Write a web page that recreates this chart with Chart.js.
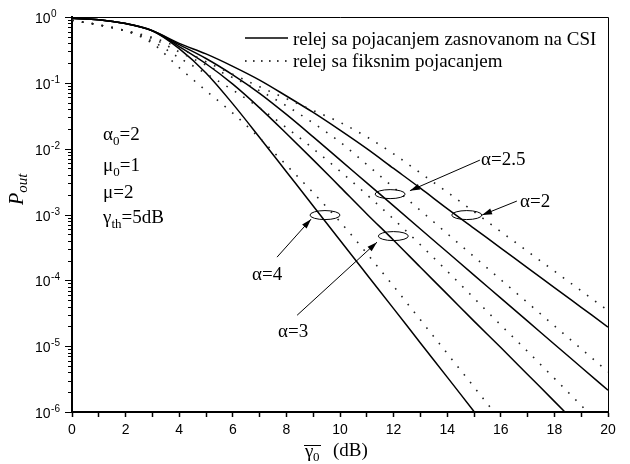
<!DOCTYPE html>
<html>
<head>
<meta charset="utf-8">
<script src="https://cdn.jsdelivr.net/npm/chart.js@4.4.1/dist/chart.umd.min.js"></script>
<style>
  html, body { margin: 0; padding: 0; background: #fff; }
  canvas { display: block; }
</style>
</head>
<body>
<canvas id="chart" width="630" height="464"></canvas>
<script>
// average SNR of the first hop, dB
const gammaDb = [0, 1, 2, 3, 4, 5, 6, 7, 8, 9, 10, 11, 12, 13, 14, 15, 16, 17, 18, 19, 20];

// outage probability, relay with CSI-assisted gain (solid)
const csiA2  = [0.955, 0.912, 0.794, 0.617, 0.398, 0.275, 0.178, 0.110, 0.0631, 0.0355, 0.0191, 0.0100, 5.01e-3, 2.51e-3, 1.23e-3, 6.17e-4, 3.09e-4, 1.55e-4, 7.76e-5, 3.89e-5, 1.95e-5];
const csiA25 = [0.955, 0.912, 0.794, 0.617, 0.380, 0.234, 0.132, 0.0692, 0.0331, 0.0151, 6.76e-3, 3.02e-3, 1.35e-3, 6.03e-4, 2.69e-4, 1.20e-4, 5.37e-5, 2.40e-5, 1.07e-5, 4.79e-6, 2.14e-6];
const csiA3  = [0.955, 0.912, 0.794, 0.617, 0.355, 0.195, 0.0955, 0.0417, 0.0170, 6.76e-3, 2.63e-3, 1.02e-3, 4.07e-4, 1.58e-4, 6.17e-5, 2.40e-5, 9.55e-6, 3.72e-6, 1.45e-6, 5.62e-7];
const csiA4  = [0.955, 0.912, 0.794, 0.617, 0.331, 0.141, 0.0479, 0.0148, 4.47e-3, 1.35e-3, 4.07e-4, 1.23e-4, 3.72e-5, 1.12e-5, 3.39e-6, 1.02e-6, 3.09e-7];

// outage probability, relay with fixed gain (dotted)
const fixA2  = [0.891, 0.759, 0.617, 0.490, 0.339, 0.209, 0.135, 0.0871, 0.0575, 0.0380, 0.0251, 0.0151, 8.32e-3, 4.27e-3, 2.19e-3, 1.10e-3, 5.50e-4, 2.75e-4, 1.38e-4, 6.92e-5, 3.47e-5];
const fixA25 = [0.891, 0.759, 0.617, 0.468, 0.295, 0.186, 0.120, 0.0759, 0.0447, 0.0245, 0.0126, 5.75e-3, 2.57e-3, 1.15e-3, 5.13e-4, 2.29e-4, 1.02e-4, 4.57e-5, 2.04e-5, 9.12e-6, 4.07e-6];
const fixA3  = [0.891, 0.759, 0.617, 0.427, 0.240, 0.138, 0.0776, 0.0417, 0.0209, 0.0100, 4.57e-3, 2.00e-3, 8.51e-4, 3.47e-4, 1.38e-4, 5.37e-5, 2.09e-5, 8.32e-6, 3.24e-6, 1.26e-6, 4.90e-7];
const fixA4  = [0.891, 0.759, 0.617, 0.398, 0.170, 0.0759, 0.0347, 0.0145, 5.62e-3, 2.14e-3, 7.76e-4, 2.57e-4, 8.13e-5, 2.51e-5, 7.76e-6, 2.40e-6, 7.41e-7];

const legendLabels = ['relej sa pojacanjem zasnovanom na CSI', 'relej sa fiksnim pojacanjem'];
const yDecades = [0, -1, -2, -3, -4, -5, -6];

// callouts: label anchor, ellipse centre, arrow start / tip (data coordinates)
const callouts = [
  { text: 'α=2.5', label: [15.26, 5.6e-3],  ring: [11.87, 2.04e-3], from: [15.22, 6.7e-3],  to: [12.61, 2.3e-3] },
  { text: 'α=2',   label: [16.72, 1.29e-3], ring: [14.73, 9.8e-4],  from: [16.60, 1.6e-3],  to: [15.30, 9.8e-4] },
  { text: 'α=4',   label: [6.72, 1.0e-4],   ring: [9.44, 9.8e-4],   from: [7.65, 2.25e-4],  to: [8.92, 8.5e-4] },
  { text: 'α=3',   label: [7.69, 1.37e-5],  ring: [11.99, 4.7e-4],  from: [8.40, 2.95e-5],  to: [11.38, 3.8e-4] }
];

const SERIF = '"Liberation Serif", "Times New Roman", serif';
const SANS = '"Liberation Sans", Arial, sans-serif';

const toPts = arr => arr.map((v, i) => ({ x: gammaDb[i], y: v }));

const datasets = [];
[fixA2, fixA25, fixA3, fixA4].forEach(a => datasets.push({
  data: toPts(a), borderColor: '#222', borderWidth: 1.6, borderDash: [1.6, 8.4],
  pointRadius: 0, fill: false, cubicInterpolationMode: 'monotone'
}));
[csiA2, csiA25, csiA3, csiA4].forEach(a => datasets.push({
  data: toPts(a), borderColor: '#000', borderWidth: 1.5,
  pointRadius: 0, fill: false, cubicInterpolationMode: 'monotone'
}));

// draws a row of text pieces, with sub/superscripts
function runs(ctx, x, y, parts) {
  for (const p of parts) {
    ctx.font = (p.italic ? 'italic ' : '') + (p.size || 19) + 'px ' + (p.family || SERIF);
    ctx.fillText(p.t, x, y + (p.dy || 0));
    x += ctx.measureText(p.t).width;
  }
  return x;
}

const extras = {
  id: 'extras',
  afterDraw(chart) {
    const { ctx, chartArea: a, scales: { x, y } } = chart;
    ctx.save();
    ctx.fillStyle = '#000';
    ctx.strokeStyle = '#000';
    ctx.textBaseline = 'alphabetic';

    // thin top and right frame
    ctx.lineWidth = 1;
    ctx.beginPath();
    ctx.moveTo(a.left, a.top + 0.5); ctx.lineTo(a.right + 0.5, a.top + 0.5);
    ctx.lineTo(a.right + 0.5, a.bottom);
    ctx.stroke();

    // y ticks (decades long, minors short) and labels 10^n
    yDecades.forEach(n => {
      const py = Math.round(y.getPixelForValue(Math.pow(10, n))) + 0.5;
      ctx.beginPath(); ctx.moveTo(a.left - 7, py); ctx.lineTo(a.left, py); ctx.stroke();
      if (n > -6) {
        for (let k = 2; k <= 9; k++) {
          const pm = Math.round(y.getPixelForValue(k * Math.pow(10, n - 1))) + 0.5;
          ctx.beginPath(); ctx.moveTo(a.left - 4, pm); ctx.lineTo(a.left, pm); ctx.stroke();
        }
      }
      const xe = runs(ctx, 35, py + 5, [{ t: '10', size: 14, family: SANS }]);
      runs(ctx, xe + 0.5, py - 1, [{ t: n === 0 ? '0' : '-' + (-n), size: 10, family: SANS }]);
    });

    // y title P_out
    ctx.save();
    ctx.translate(23, 205);
    ctx.rotate(-Math.PI / 2);
    runs(ctx, 0, 0, [{ t: 'P', size: 20, italic: true }, { t: 'out', size: 15, italic: true, dy: 4 }]);
    ctx.restore();

    // x title: gamma-bar_0 (dB)
    runs(ctx, 305, 457, [{ t: 'γ', size: 19 }]);
    runs(ctx, 313, 461, [{ t: '0', size: 13 }]);
    runs(ctx, 333, 456, [{ t: '(dB)', size: 19 }]);
    ctx.beginPath(); ctx.moveTo(304, 445.5); ctx.lineTo(321, 445.5); ctx.stroke();

    // legend
    ctx.lineWidth = 1.5;
    ctx.beginPath(); ctx.moveTo(245, 38); ctx.lineTo(288, 38); ctx.stroke();
    ctx.setLineDash([1.6, 6.4]); ctx.lineWidth = 1.6;
    ctx.beginPath(); ctx.moveTo(245, 61); ctx.lineTo(289, 61); ctx.stroke();
    ctx.setLineDash([]);
    runs(ctx, 293, 45, [{ t: legendLabels[0] }]);
    runs(ctx, 293, 67, [{ t: legendLabels[1] }]);

    // parameter block
    runs(ctx, 103, 140, [{ t: 'α' }, { t: '0', size: 13, dy: 5 }, { t: '=2' }]);
    runs(ctx, 103, 171, [{ t: 'μ' }, { t: '0', size: 13, dy: 5 }, { t: '=1' }]);
    runs(ctx, 103, 198, [{ t: 'μ=2' }]);
    runs(ctx, 103, 223, [{ t: 'γ' }, { t: 'th', size: 13, dy: 5 }, { t: '=5dB' }]);

    // callouts: ellipse, arrow, label
    ctx.lineWidth = 1;
    callouts.forEach(c => {
      const cx = x.getPixelForValue(c.ring[0]), cy = y.getPixelForValue(c.ring[1]);
      ctx.beginPath(); ctx.ellipse(cx, cy, 15, 4.5, 0, 0, Math.PI * 2); ctx.stroke();
      const x0 = x.getPixelForValue(c.from[0]), y0 = y.getPixelForValue(c.from[1]);
      const x1 = x.getPixelForValue(c.to[0]), y1 = y.getPixelForValue(c.to[1]);
      const ang = Math.atan2(y1 - y0, x1 - x0);
      ctx.beginPath(); ctx.moveTo(x0, y0); ctx.lineTo(x1, y1); ctx.stroke();
      ctx.beginPath();
      ctx.moveTo(x1, y1);
      ctx.lineTo(x1 - 10 * Math.cos(ang) + 3 * Math.sin(ang), y1 - 10 * Math.sin(ang) - 3 * Math.cos(ang));
      ctx.lineTo(x1 - 10 * Math.cos(ang) - 3 * Math.sin(ang), y1 - 10 * Math.sin(ang) + 3 * Math.cos(ang));
      ctx.closePath(); ctx.fill();
      runs(ctx, x.getPixelForValue(c.label[0]), y.getPixelForValue(c.label[1]), [{ t: c.text }]);
    });
    ctx.restore();
  }
};

new Chart(document.getElementById('chart'), {
  type: 'line',
  data: { datasets },
  options: {
    responsive: false,
    animation: false,
    devicePixelRatio: 1,
    layout: { padding: { top: 17, right: 22, left: 0, bottom: 0 } },
    plugins: { legend: { display: false }, tooltip: { enabled: false } },
    scales: {
      x: {
        type: 'linear', min: 0, max: 20,
        ticks: {
          stepSize: 1, autoSkip: false, maxRotation: 0, padding: 5, color: '#000',
          font: { family: SANS, size: 14 },
          callback: v => (v % 2 === 0 ? String(v) : '')
        },
        grid: { display: true, drawOnChartArea: false, drawTicks: true, tickLength: 5, tickColor: '#000', tickWidth: 1.5 },
        border: { display: true, color: '#000', width: 2 },
        afterFit: s => { s.height = 52; }
      },
      y: {
        type: 'logarithmic', min: 1e-6, max: 1,
        ticks: { display: false },
        grid: { display: false },
        border: { display: true, color: '#000', width: 2 },
        afterFit: s => { s.width = 72; }
      }
    }
  },
  plugins: [extras]
});
</script>
</body>
</html>
